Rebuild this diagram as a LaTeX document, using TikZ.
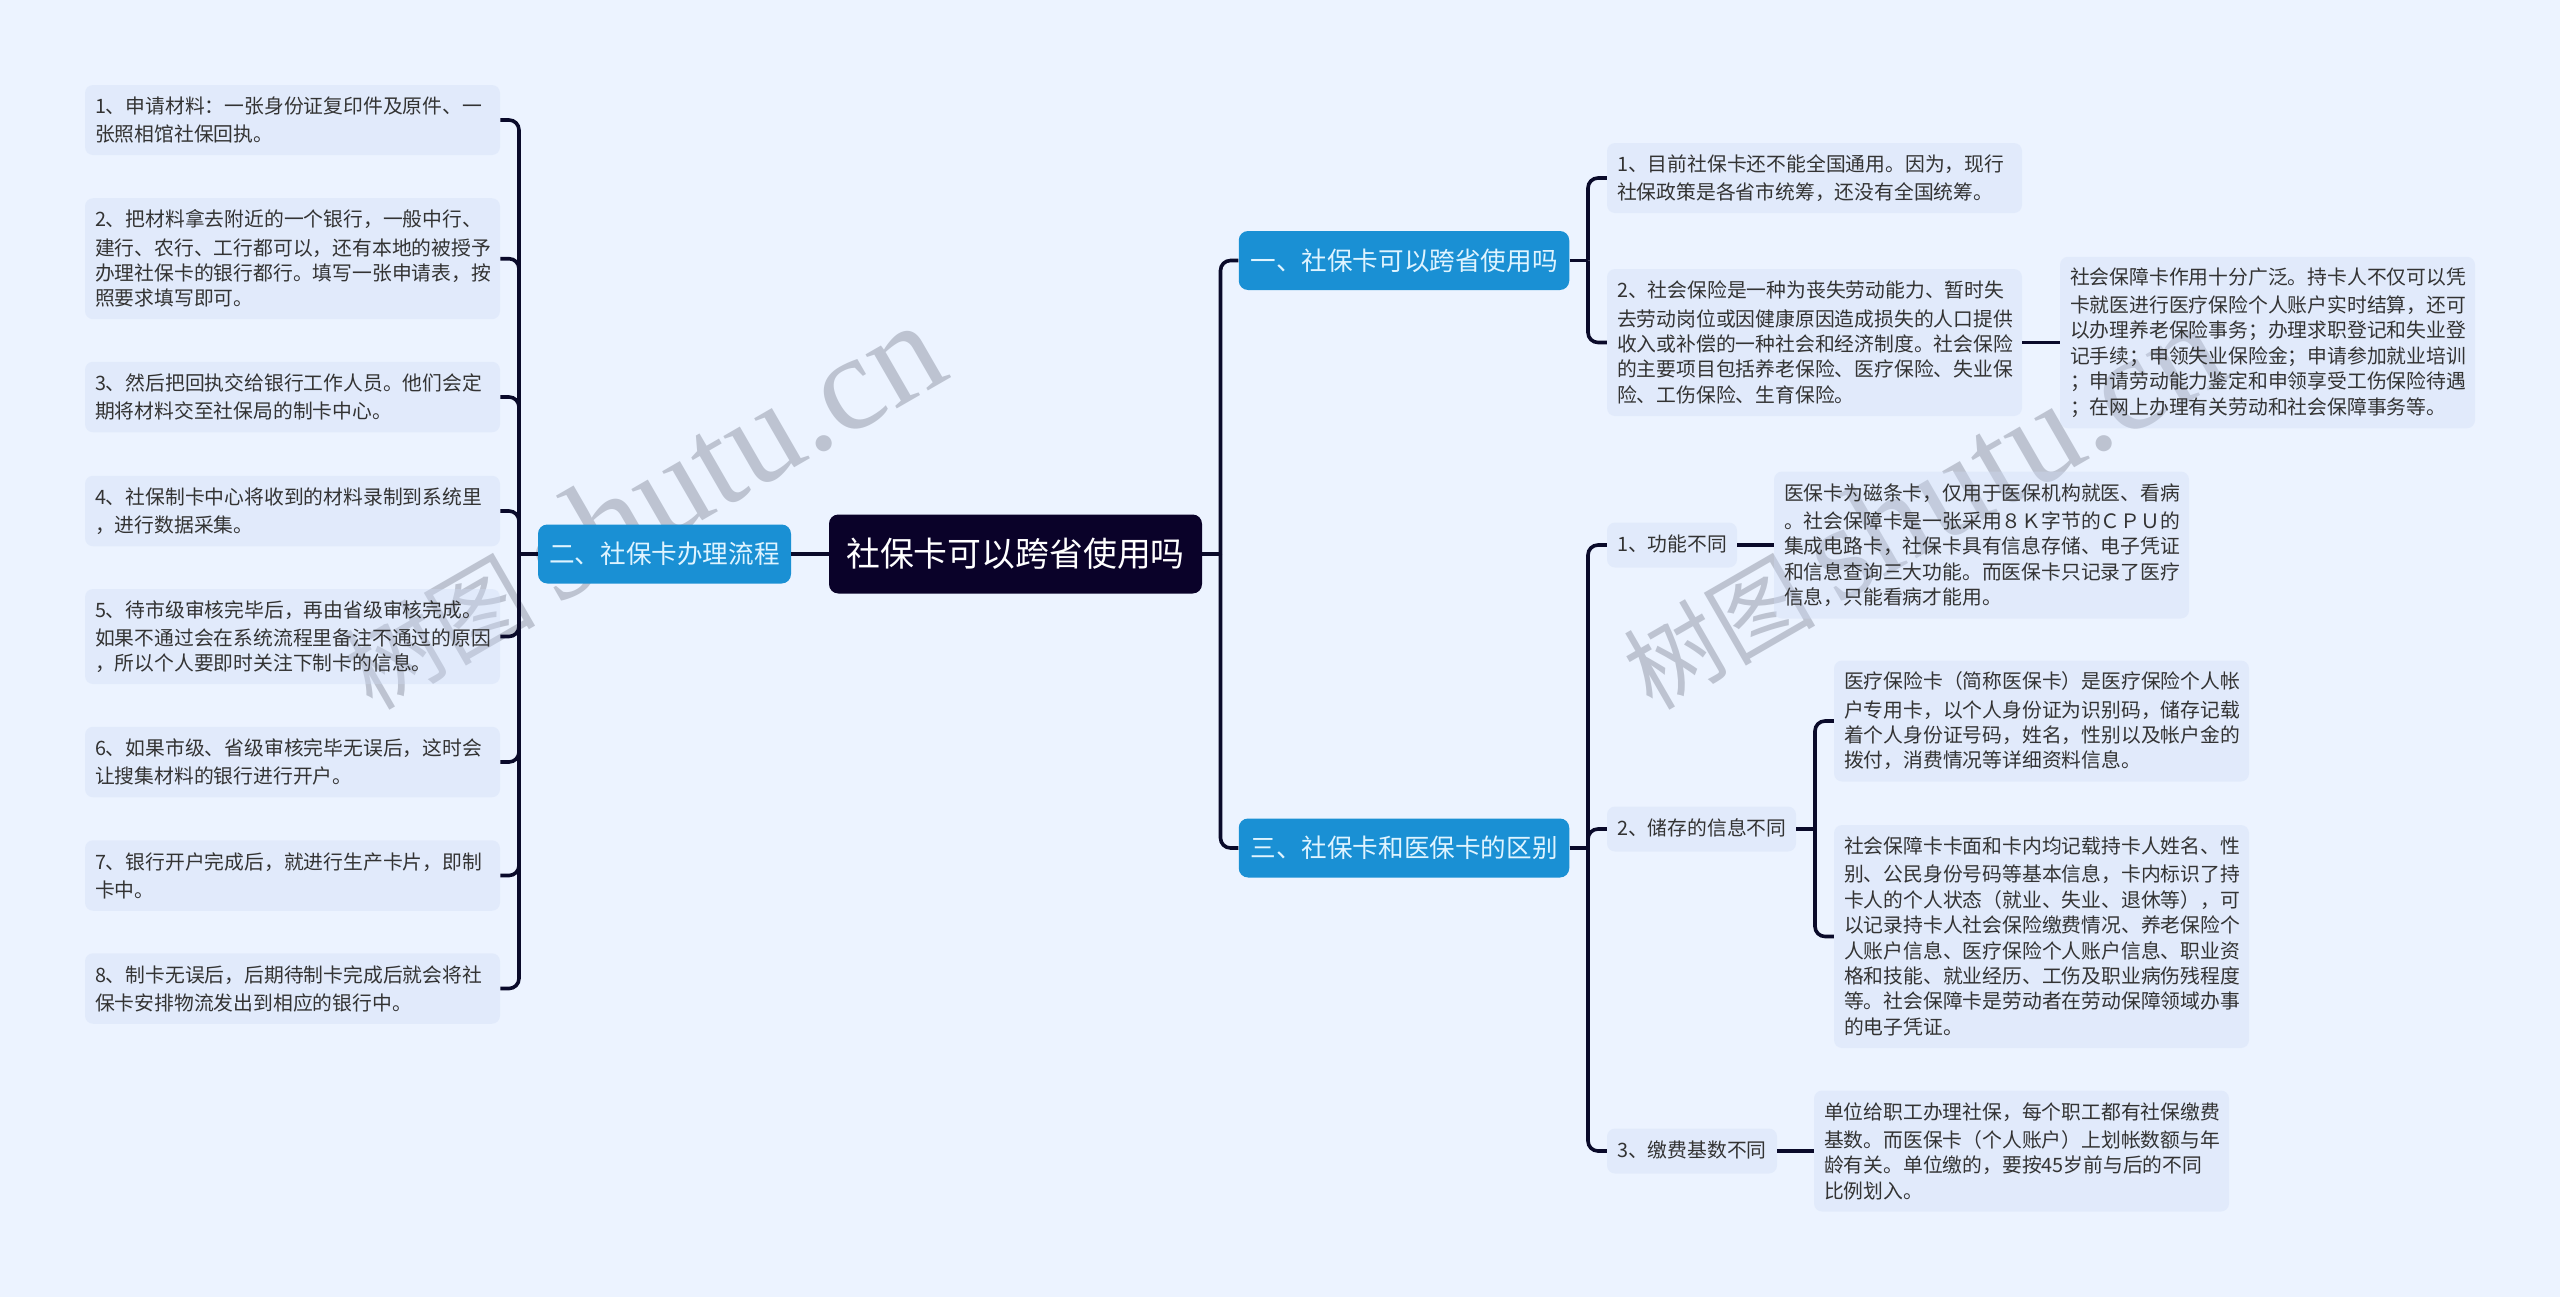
\documentclass[tikz,border=0pt]{standalone}
\usepackage{fontspec}
\setmainfont{Noto Sans CJK SC}
\newfontfamily\wmcjk{Noto Sans CJK SC}
\newfontfamily\wmlat{Liberation Serif}
\definecolor{bgc}{HTML}{ECF3FF}
\definecolor{leafc}{HTML}{CFDCF6}
\definecolor{bluec}{HTML}{1A90D4}
\definecolor{rootc}{HTML}{0A0229}
\definecolor{wirec}{HTML}{0A0A2A}
\definecolor{txtc}{HTML}{333333}
\definecolor{bluetxt}{HTML}{DFF4FF}
\definecolor{wmc}{HTML}{6A7080}
\tikzset{
  x=0.75pt,y=-0.75pt,
  leaf/.style 2 args={draw=none,fill=leafc,fill opacity=0.35,text opacity=1,rounded corners=6pt,text=txtc,align=left,
    minimum width=#1*0.75pt,minimum height=#2*0.75pt,text width=(#1-20)*0.75pt,
    inner xsep=7.5pt,inner ysep=0pt,
    execute at begin node={\vspace*{2pt}},
    font=\fontsize{14.85}{19.05}\selectfont},
  topic/.style 2 args={fill=bluec,rounded corners=7pt,text=bluetxt,align=center,
    minimum width=#1*0.75pt,minimum height=#2*0.75pt,inner sep=0pt,
    font=\fontsize{19.2}{24}\selectfont},
  rootn/.style 2 args={fill=rootc,rounded corners=7pt,text=white,align=center,
    minimum width=#1*0.75pt,minimum height=#2*0.75pt,inner sep=0pt,
    font=\fontsize{25.4}{30}\selectfont},
  wire/.style={draw=wirec,line width=2.7pt,rounded corners=7.5pt},
  wmark/.style={text=wmc,opacity=0.36,rotate=30,anchor=base west,inner sep=0pt},
}
\begin{document}
\begin{tikzpicture}
\useasboundingbox (0,0) rectangle (2560,1297);
\fill[bgc] (0,0) rectangle (2560,1297);

\node[wmark] (wm1) at (372,712) {\wmcjk\fontsize{72}{72}\selectfont 树图\ \wmlat\fontsize{102}{102}\selectfont shutu.cn};
\node[wmark] (wm2) at (1652,712) {\wmcjk\fontsize{72}{72}\selectfont 树图\ \wmlat\fontsize{102}{102}\selectfont shutu.cn};

\node[rootn={373}{79}] (root) at (1015.5,554) {社保卡可以跨省使用吗};
\node[topic={253}{59}] (b2) at (664.5,554) {二、社保卡办理流程};
\node[topic={330.5}{59}] (b1) at (1404,260.5) {一、社保卡可以跨省使用吗};
\node[topic={330.5}{59}] (b3) at (1404,848) {三、社保卡和医保卡的区别};

\node[leaf={415}{70}] (l1) at (292.5,120) {1、申请材料：一张身份证复印件及原件、一\\张照相馆社保回执。};
\node[leaf={415}{121}] (l2) at (292.5,258.7) {2、把材料拿去附近的一个银行，一般中行、\\建行、农行、工行都可以，还有本地的被授予\\办理社保卡的银行都行。填写一张申请表，按\\照要求填写即可。};
\node[leaf={415}{70.5}] (l3) at (292.5,397) {3、然后把回执交给银行工作人员。他们会定\\期将材料交至社保局的制卡中心。};
\node[leaf={415}{70.5}] (l4) at (292.5,511) {4、社保制卡中心将收到的材料录制到系统里\\，进行数据采集。};
\node[leaf={415}{95}] (l5) at (292.5,636.5) {5、待市级审核完毕后，再由省级审核完成。\\如果不通过会在系统流程里备注不通过的原因\\，所以个人要即时关注下制卡的信息。};
\node[leaf={415}{70.5}] (l6) at (292.5,762) {6、如果市级、省级审核完毕无误后，这时会\\让搜集材料的银行进行开户。};
\node[leaf={415}{70.5}] (l7) at (292.5,875.5) {7、银行开户完成后，就进行生产卡片，即制\\卡中。};
\node[leaf={415}{70.5}] (l8) at (292.5,988.5) {8、制卡无误后，后期待制卡完成后就会将社\\保卡安排物流发出到相应的银行中。};

\node[leaf={415}{70}] (r1) at (1814.5,178) {1、目前社保卡还不能全国通用。因为，现行\\社保政策是各省市统筹，还没有全国统筹。};
\node[leaf={415}{147}] (r2) at (1814.5,342.5) {2、社会保险是一种为丧失劳动能力、暂时失\\去劳动岗位或因健康原因造成损失的人口提供\\收入或补偿的一种社会和经济制度。社会保险\\的主要项目包括养老保险、医疗保险、失业保\\险、工伤保险、生育保险。};
\node[leaf={415}{171.5}] (r2d) at (2267.5,342.5) {社会保障卡作用十分广泛。持卡人不仅可以凭\\卡就医进行医疗保险个人账户实时结算，还可\\以办理养老保险事务；办理求职登记和失业登\\记手续；申领失业保险金；申请参加就业培训\\；申请劳动能力鉴定和申领享受工伤保险待遇\\；在网上办理有关劳动和社会保障事务等。};

\node[leaf={130}{45}] (n1) at (1672,545) {1、功能不同};
\node[leaf={415}{147}] (n1d) at (1981.5,545) {医保卡为磁条卡，仅用于医保机构就医、看病\\。社会保障卡是一张采用８Ｋ字节的ＣＰＵ的\\集成电路卡，社保卡具有信息存储、电子凭证\\和信息查询三大功能。而医保卡只记录了医疗\\信息，只能看病才能用。};
\node[leaf={189}{45}] (n2) at (1701.5,829) {2、储存的信息不同};
\node[leaf={415}{121}] (d2a) at (2041.5,721) {医疗保险卡（简称医保卡）是医疗保险个人帐\\户专用卡，以个人身份证为识别码，储存记载\\着个人身份证号码，姓名，性别以及帐户金的\\拨付，消费情况等详细资料信息。};
\node[leaf={415}{223}] (d2b) at (2041.5,936.5) {社会保障卡卡面和卡内均记载持卡人姓名、性\\别、公民身份号码等基本信息，卡内标识了持\\卡人的个人状态（就业、失业、退休等），可\\以记录持卡人社会保险缴费情况、养老保险个\\人账户信息、医疗保险个人账户信息、职业资\\格和技能、就业经历、工伤及职业病伤残程度\\等。社会保障卡是劳动者在劳动保障领域办事\\的电子凭证。};
\node[leaf={170}{45}] (n3) at (1692,1151) {3、缴费基数不同};
\node[leaf={415}{121}] (n3d) at (2021.5,1151) {单位给职工办理社保，每个职工都有社保缴费\\基数。而医保卡（个人账户）上划帐数额与年\\龄有关。单位缴的，要按45岁前与后的不同\\比例划入。};

\coordinate (sL) at (519,554);
\coordinate (sR) at (1220.5,554);
\coordinate (s1) at (1588,260.5);
\coordinate (s3) at (1588,848);
\coordinate (s2) at (1815,829);

\draw[wire] (root.west) -- (b2.east);
\draw[wire] (b2.west) -- (sL);
\foreach \c in {l1,l2,l3,l4,l5,l6,l7,l8} \draw[wire] (sL) |- (\c.east);
\draw[wire] (root.east) -- (sR);
\foreach \c in {b1,b3} \draw[wire] (sR) |- (\c.west);
\draw[wire] (b1.east) -- (s1);
\foreach \c in {r1,r2} \draw[wire] (s1) |- (\c.west);
\draw[wire] (r2.east) -- (r2d.west);
\draw[wire] (b3.east) -- (s3);
\foreach \c in {n1,n2,n3} \draw[wire] (s3) |- (\c.west);
\draw[wire] (n1.east) -- (n1d.west);
\draw[wire] (n2.east) -- (s2);
\foreach \c in {d2a,d2b} \draw[wire] (s2) |- (\c.west);
\draw[wire] (n3.east) -- (n3d.west);
\end{tikzpicture}
\end{document}
